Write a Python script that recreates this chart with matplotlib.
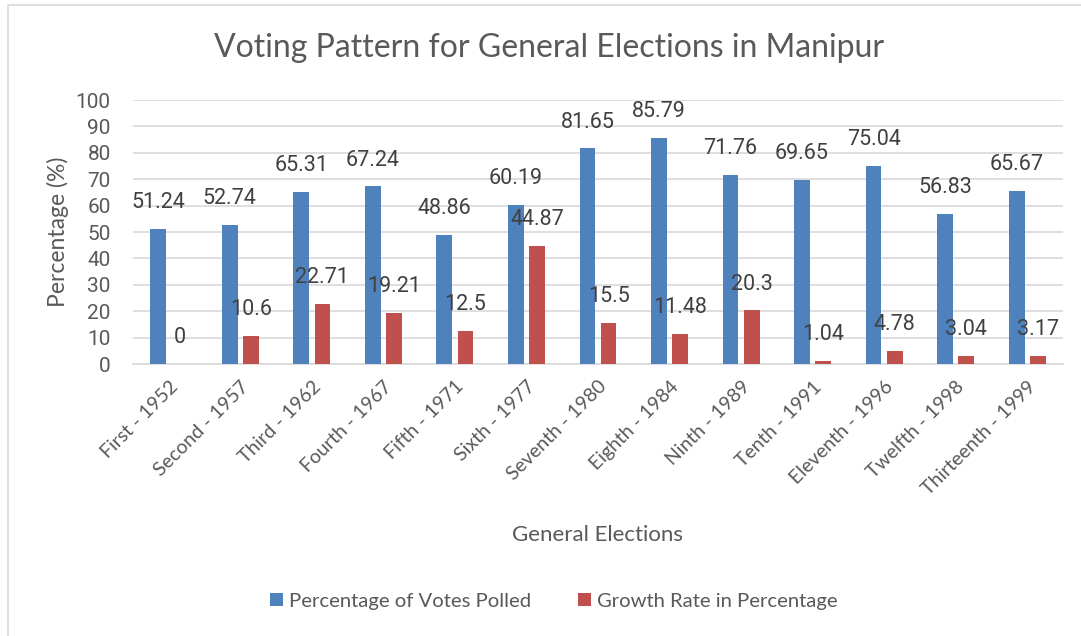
import matplotlib
matplotlib.use("Agg")
import matplotlib.pyplot as plt
import numpy as np
from matplotlib.patches import Rectangle

categories = ["First - 1952", "Second - 1957", "Third - 1962", "Fourth - 1967",
              "Fifth - 1971", "Sixth - 1977", "Seventh - 1980", "Eighth - 1984",
              "Ninth - 1989", "Tenth - 1991", "Eleventh - 1996", "Twelfth - 1998",
              "Thirteenth - 1999"]
votes_polled = [51.24, 52.74, 65.31, 67.24, 48.86, 60.19, 81.65, 85.79,
                71.76, 69.65, 75.04, 56.83, 65.67]
growth_rate = [0, 10.6, 22.71, 19.21, 12.5, 44.87, 15.5, 11.48,
               20.3, 1.04, 4.78, 3.04, 3.17]
series_names = ["Percentage of Votes Polled", "Growth Rate in Percentage"]

BLUE = "#4F81BD"
RED = "#C0504D"
TEXT = "#595959"
GRID = "#D9D9D9"

W, H = 1081, 636
fig = plt.figure(figsize=(W / 100, H / 100), dpi=100)
fig.patch.set_facecolor("white")
fig.add_artist(Rectangle((8 / W, -0.01), 1.02, 1 - 4.5 / H + 0.01,
                         transform=fig.transFigure, fill=False,
                         edgecolor="#D9D9D9", linewidth=1.2))

ax = fig.add_axes([133 / W, 1 - 364 / H, (1063 - 133) / W, (364 - 100) / H])
x = np.arange(len(categories))
bw = 0.22
off = 0.148
b1 = ax.bar(x - off, votes_polled, bw, color=BLUE, label=series_names[0], zorder=3)
b2 = ax.bar(x + off, growth_rate, bw, color=RED, label=series_names[1], zorder=3)

for bars, vals in ((b1, votes_polled), (b2, growth_rate)):
    for rect, v in zip(bars, vals):
        ax.annotate(f"{v:g}", (rect.get_x() + rect.get_width() / 2, v),
                    xytext=(0, 19), textcoords="offset points",
                    ha="center", va="center", fontsize=15.5,
                    family="Roboto", color="#404040", zorder=4)

ax.set_xlim(-0.5, len(categories) - 0.5)
ax.set_ylim(0, 100)
ax.set_yticks(np.arange(0, 101, 10))
ax.yaxis.grid(True, color=GRID, linewidth=1.2, zorder=0)
ax.set_axisbelow(True)
for s in ("top", "right", "left"):
    ax.spines[s].set_visible(False)
ax.spines["bottom"].set_color(GRID)
ax.spines["bottom"].set_linewidth(1.2)
ax.tick_params(axis="both", length=0, colors=TEXT)
ax.tick_params(axis="y", labelsize=15, pad=16)
for lab in ax.get_yticklabels():
    lab.set_family("Roboto")

ax.set_xticks(x)
ax.set_xticklabels(categories, rotation=45, ha="right", rotation_mode="anchor",
                   fontsize=14, family="Lato", color=TEXT)
ax.tick_params(axis="x", pad=10)

ax.set_ylabel("Percentage (%)", fontsize=16.5, family="Lato", color=TEXT, labelpad=5)
fig.text((133 + 1063) / 2 / W, 1 - 535 / H, "General Elections", ha="center",
         va="center", fontsize=16, family="Lato", color=TEXT)
fig.text(549 / W, 1 - 48 / H, "Voting Pattern for General Elections in Manipur",
         ha="center", va="center", fontsize=23, family="Lato", color=TEXT)

leg = fig.legend(handles=[b1, b2], loc="center", bbox_to_anchor=(554 / W, 1 - 601 / H),
                 ncol=2, frameon=False, handlelength=0.65, handleheight=0.65,
                 handletextpad=0.3, columnspacing=2.3,
                 prop={"family": "Lato", "size": 14.6})
for t in leg.get_texts():
    t.set_color(TEXT)

fig.savefig("out.png", dpi=100, facecolor="white")
